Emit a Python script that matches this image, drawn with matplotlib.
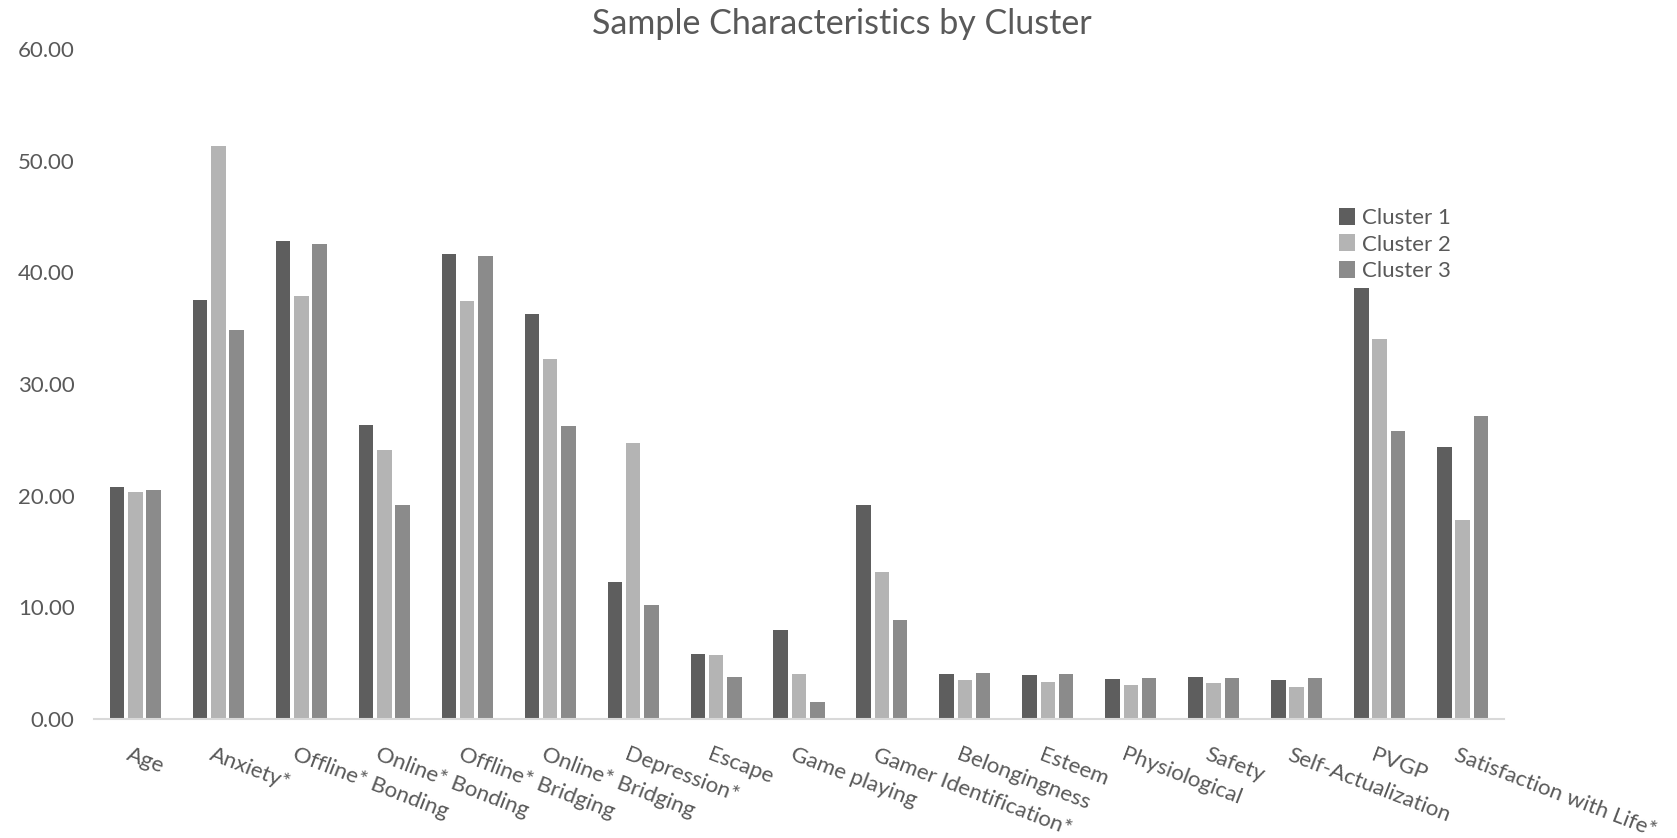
import matplotlib.pyplot as plt
import numpy as np

categories = ["Age", "Anxiety*", "Offline* Bonding", "Online* Bonding",
              "Offline* Bridging", "Online* Bridging", "Depression*", "Escape",
              "Game playing", "Gamer Identification*", "Belongingness", "Esteem",
              "Physiological", "Safety", "Self-Actualization", "PVGP",
              "Satisfaction with Life*"]
cluster1 = [20.8, 37.5, 42.8, 26.3, 41.6, 36.3, 12.3, 5.85, 8.0, 19.2,
            4.03, 3.94, 3.58, 3.79, 3.49, 38.6, 24.4]
cluster2 = [20.3, 51.3, 37.9, 24.1, 37.4, 32.2, 24.7, 5.7, 4.06, 13.2,
            3.46, 3.31, 3.07, 3.22, 2.86, 34.0, 17.8]
cluster3 = [20.5, 34.8, 42.5, 19.2, 41.5, 26.2, 10.2, 3.76, 1.52, 8.9,
            4.09, 4.06, 3.64, 3.67, 3.64, 25.8, 27.1]
series_names = ["Cluster 1", "Cluster 2", "Cluster 3"]
colors = ["#5e5e5e", "#b4b4b4", "#8b8b8b"]

plt.rcParams['font.family'] = ['Lato', 'DejaVu Sans']
text_color = "#595959"

fig = plt.figure(figsize=(16.77, 8.38), dpi=100)
ax = fig.add_axes([94 / 1677, 1 - 719 / 838, (1504 - 94) / 1677, (719 - 49) / 838])

x = np.arange(len(categories))
offset = 0.22
for i, (vals, name, c) in enumerate(zip([cluster1, cluster2, cluster3], series_names, colors)):
    ax.bar(x + (i - 1) * offset, vals, width=0.175, color=c, label=name, zorder=2)

ax.set_xlim(-0.5, len(categories) - 0.5)
ax.set_ylim(0, 60)
ax.set_yticks(np.arange(0, 61, 10))
ax.set_yticklabels([f"{v:.2f}" for v in np.arange(0, 61, 10)], fontsize=16, color=text_color)
ax.tick_params(axis='y', length=0, pad=14)
ax.tick_params(axis='x', length=0)

ax.set_xticks(x)
ax.set_xticklabels([])
for xi, lab in zip(x, categories):
    ax.text(xi - 0.05, -2.3, lab, rotation=-21, rotation_mode='anchor',
            ha='left', va='top', fontsize=16, color=text_color)

for s in ['top', 'right', 'left']:
    ax.spines[s].set_visible(False)
ax.spines['bottom'].set_color('#d9d9d9')
ax.spines['bottom'].set_linewidth(1.5)

fig.text(842 / 1677, 1 - 24 / 838, "Sample Characteristics by Cluster",
         ha='center', va='center', fontsize=24.5, color=text_color)

leg = ax.legend(loc='upper left', bbox_to_anchor=((1339 - 94) / 1410, 1 - (208 - 49) / 670),
                frameon=False, fontsize=16, handlelength=0.7, handleheight=0.8,
                handletextpad=0.35, labelspacing=0.28, borderpad=0, borderaxespad=0)
for t in leg.get_texts():
    t.set_color(text_color)

fig.savefig("out.png", dpi=100)
